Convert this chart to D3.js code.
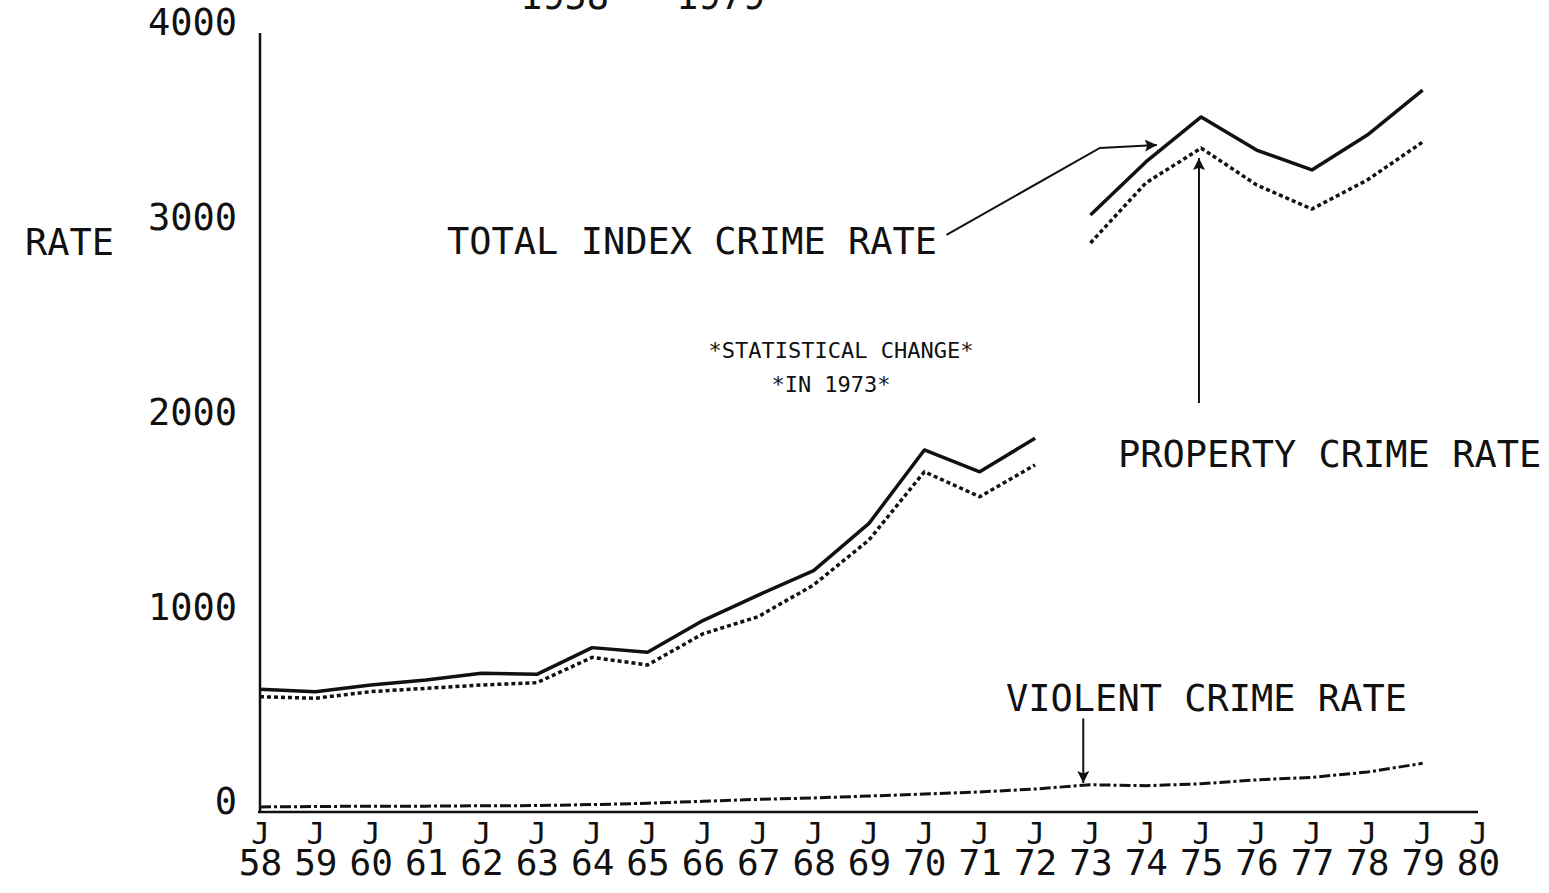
<!DOCTYPE html>
<html>
<head>
<meta charset="utf-8">
<script src="https://cdn.jsdelivr.net/npm/d3@7"></script>
<style>
  body { margin: 0; background: #fff; }
  svg { display: block; }
  text { font-family: "DejaVu Sans Mono", monospace; fill: #111; }
</style>
</head>
<body>
<svg id="chart"></svg>
<script>
const WIDTH = 1549;
const HEIGHT = 893;

// data, one value per year (January)
const years = [1958, 1959, 1960, 1961, 1962, 1963, 1964, 1965, 1966, 1967, 1968,
               1969, 1970, 1971, 1972, 1973, 1974, 1975, 1976, 1977, 1978, 1979];
const totalRate = [630, 618, 652, 678, 712, 707, 844, 820, 983, 1114, 1239,
                   1482, 1859, 1747, 1919, 3065, 3338, 3569, 3399, 3297, 3476, 3707];
const propertyRate = [592, 584, 618, 635, 652, 664, 794, 755, 915, 1003, 1166,
                      1397, 1747, 1619, 1782, 2922, 3230, 3409, 3220, 3096, 3245, 3440];
const violentRate = [26, 28, 30, 30, 32, 33, 38, 45, 55, 65, 72,
                     82, 92, 103, 118, 140, 135, 145, 165, 178, 205, 250];
const breakYear = 1973; // statistical change, total and property lines restart here

const yTicks = [0, 1000, 2000, 3000, 4000];
const xTicks = d3.range(1958, 1981);

const svg = d3.select("#chart")
    .attr("width", WIDTH)
    .attr("height", HEIGHT);

const x = d3.scaleLinear().domain([1958, 1980]).range([260, 1478]);
const y = d3.scaleLinear().domain([0, 4000]).range([812, 33]);

// axes
const yAxis = svg.append("g")
    .attr("transform", `translate(${x(1958)},0)`)
    .call(d3.axisLeft(y).tickValues(yTicks).tickSize(0).tickPadding(23).tickFormat(d3.format("d")));
yAxis.select(".domain").attr("stroke", "#111").attr("stroke-width", 2.5)
    .attr("d", `M0,${y(0)}V${y(4000)}`);
yAxis.selectAll("text")
    .attr("dy", "0.05em")
    .style("font-size", "37px")
    .style("font-family", "DejaVu Sans Mono")
    .attr("fill", "#111");

const xAxis = svg.append("g")
    .attr("transform", `translate(0,${y(0)})`)
    .call(d3.axisBottom(x).tickValues(xTicks).tickSize(0).tickFormat(""));
xAxis.select(".domain").attr("stroke", "#111").attr("stroke-width", 2.5)
    .attr("d", `M${x(1958) - 2},0H${x(1980)}`);
xAxis.selectAll(".tick").each(function(d) {
  const t = d3.select(this).select("text")
      .attr("y", 0).attr("dy", null)
      .attr("text-anchor", "middle")
      .attr("fill", "#111")
      .style("font-family", "DejaVu Sans Mono");
  t.append("tspan").attr("x", 0).attr("y", 32)
      .style("font-size", "31px").text("J");
  t.append("tspan").attr("x", 0).attr("y", 63)
      .style("font-size", "36px").text(String(d).slice(2));
});

svg.append("text").attr("x", 25).attr("y", 255)
    .style("font-size", "37px").text("RATE");

// cut-off title at the top edge
svg.append("text").attr("x", 520).attr("y", 9)
    .style("font-size", "37px").text("1958 - 1979");

// series
const rows = years.map((yr, i) => ({year: yr, total: totalRate[i], property: propertyRate[i], violent: violentRate[i]}));
const before = rows.filter(d => d.year < breakYear);
const after = rows.filter(d => d.year >= breakYear);

function lineFor(key) {
  return d3.line().x(d => x(d.year)).y(d => y(d[key]));
}

const series = [
  {key: "total", dash: null, width: 3.5, parts: [before, after]},
  {key: "property", dash: "4,3", width: 3.5, parts: [before, after]},
  {key: "violent", dash: "11,3,3,3", width: 3, parts: [rows]}
];

series.forEach(s => {
  svg.append("g").selectAll("path")
    .data(s.parts)
    .join("path")
      .attr("fill", "none")
      .attr("stroke", "#111")
      .attr("stroke-width", s.width)
      .attr("stroke-dasharray", s.dash)
      .attr("stroke-linejoin", "round")
      .attr("d", lineFor(s.key));
});

// annotations
svg.append("defs").append("marker")
    .attr("id", "head")
    .attr("viewBox", "0 0 10 10")
    .attr("refX", 10).attr("refY", 5)
    .attr("markerWidth", 34).attr("markerHeight", 12)
    .attr("markerUnits", "userSpaceOnUse")
    .attr("orient", "auto")
  .append("path").attr("d", "M0,0L10,5L0,10L2,5Z").attr("fill", "#111");

const pointer = d3.line().x(d => x(d[0])).y(d => y(d[1]));
const arrows = [
  [[1970.4, 2963], [1973.17, 3410], [1974.2, 3425]],
  [[1974.96, 2100], [1974.96, 3358]],
  [[1972.87, 480], [1972.87, 149]]
];
svg.append("g").selectAll("path")
  .data(arrows)
  .join("path")
    .attr("fill", "none")
    .attr("stroke", "#111")
    .attr("stroke-width", 2)
    .attr("marker-end", "url(#head)")
    .attr("d", pointer);

svg.append("text").attr("x", 447).attr("y", 254)
    .style("font-size", "37px").text("TOTAL INDEX CRIME RATE");
svg.append("text").attr("x", 1118).attr("y", 467)
    .style("font-size", "37px").text("PROPERTY CRIME RATE");
svg.append("text").attr("x", 1006).attr("y", 711)
    .style("font-size", "37px").text("VIOLENT CRIME RATE");
svg.append("text").attr("x", 841).attr("y", 358).attr("text-anchor", "middle")
    .style("font-size", "22px").text("*STATISTICAL CHANGE*");
svg.append("text").attr("x", 831).attr("y", 392).attr("text-anchor", "middle")
    .style("font-size", "22px").text("*IN 1973*");
</script>
</body>
</html>
